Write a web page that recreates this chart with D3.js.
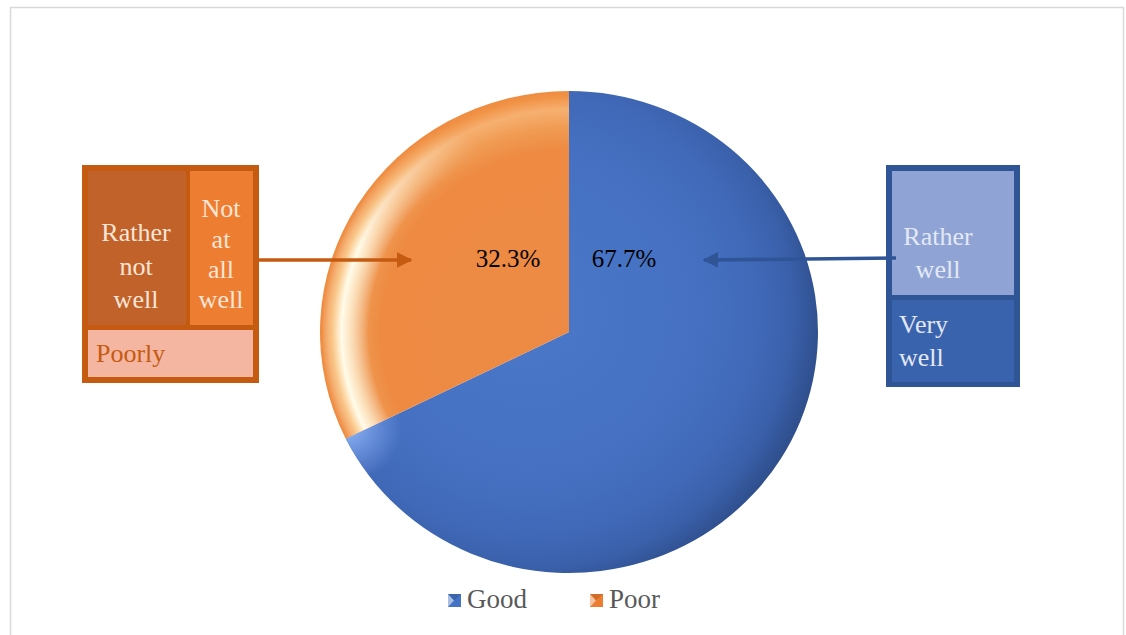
<!DOCTYPE html>
<html><head><meta charset="utf-8">
<script src="https://cdn.jsdelivr.net/npm/d3@7"></script>
<style>body{margin:0;background:#fff}#wrap{position:relative;width:1126px;height:635px}svg{display:block;position:absolute;left:0;top:0}
.lbl{position:absolute;font-family:"Liberation Serif","Times New Roman",serif;white-space:nowrap;line-height:1}</style>
</head><body>
<div id="wrap"><svg id="c" width="1126" height="635"></svg></div>
<script>
const categories = ["Good", "Poor"];
const values = [67.7, 32.3];
const labels = ["67.7%", "32.3%"];
const poorParts = ["Rather not well", "Not at all well", "Poorly"];
const goodParts = ["Rather well", "Very well"];

const svg = d3.select("#c");
const wrap = d3.select("#wrap");
const colors = {Good:"#4472C4", Poor:"#ED7D31"};

// HTML text label: x = anchor x, y = baseline y
function L(x, y, txt, size, color, anchor){
  const d = wrap.append("div").attr("class","lbl").style("font-size",size+"px").style("color",color).text(txt);
  const w = d.node().getBoundingClientRect().width;
  const left = anchor==="middle" ? x - w/2 : x;
  d.style("left",left+"px").style("top",(y - size*0.891)+"px");
  return d;
}

svg.append("path").attr("d","M10.5,636 V7.5 H1123.5 V636").attr("fill","none").attr("stroke","#d9d9d9").attr("stroke-width",1.5);

const defs = svg.append("defs");
function stops(gr, arr){ arr.forEach(([o,c,a])=>gr.append("stop").attr("offset",o).attr("stop-color",c).attr("stop-opacity",a==null?1:a)); }
const gPoor = defs.append("radialGradient").attr("id","gPoor").attr("gradientUnits","userSpaceOnUse").attr("cx",0).attr("cy",0).attr("r",250);
stops(gPoor,[[0,"#EC8A45"],[0.75,"#EE8A42"],[0.84,"#F09A52"],[0.92,"#F6B070"],[0.97,"#F19448"],[1,"#EE8A40"]]);
const gWhite = defs.append("radialGradient").attr("id","gWhite").attr("gradientUnits","userSpaceOnUse").attr("cx",0).attr("cy",0).attr("r",250);
stops(gWhite,[[0,"#fff",0],[0.8,"#fff",0],[0.87,"#FFF8E0",0.7],[0.91,"#FFFBEA",1],[0.95,"#FFE6B0",0.5],[0.99,"#fff",0]]);
const gFade = defs.append("linearGradient").attr("id","gFade").attr("gradientUnits","userSpaceOnUse")
  .attr("x1",-250).attr("y1",60).attr("x2",0).attr("y2",-250);
stops(gFade,[[0,"#fff"],[0.35,"#fff"],[0.75,"#000"],[1,"#000"]]);
defs.append("mask").attr("id","mFade").attr("maskUnits","userSpaceOnUse").attr("x",-300).attr("y",-300).attr("width",600).attr("height",600)
  .append("rect").attr("x",-300).attr("y",-300).attr("width",600).attr("height",600).attr("fill","url(#gFade)");
const gGood = defs.append("radialGradient").attr("id","gGood").attr("gradientUnits","userSpaceOnUse").attr("cx",-40).attr("cy",-20).attr("r",300);
stops(gGood,[[0,"#4A78C8"],[0.55,"#4671C2"],[0.76,"#4069B8"],[0.88,"#3A60AA"],[1,"#2C4A85"]]);
const gShine = defs.append("radialGradient").attr("id","gShine").attr("gradientUnits","userSpaceOnUse").attr("cx",-222).attr("cy",100).attr("r",55);
stops(gShine,[[0,"#9cc0ff",0.85],[1,"#8fb4ff",0]]);

const cx = 569, cy = 332, R = 249;
const pie = d3.pie().sort(null).value(d=>d.v);
const arcs = pie(categories.map((c,i)=>({c, v:values[i], l:labels[i]})));
const arc = d3.arc().innerRadius(0).outerRadius(R);
const g = svg.append("g").attr("transform",`translate(${cx},${cy}) scale(1,0.968)`);
g.selectAll("path.s").data(arcs).join("path").attr("class","s")
  .attr("d",arc).attr("fill",d=>d.data.c==="Good"?"url(#gGood)":"url(#gPoor)");
g.append("path").attr("d",arc(arcs[1])).attr("fill","url(#gWhite)").attr("mask","url(#mFade)");
g.append("path").attr("d",arc(arcs[0])).attr("fill","url(#gShine)");

function marker(id,color){
  defs.append("marker").attr("id",id).attr("viewBox","0 0 10 10").attr("refX",9).attr("refY",5)
    .attr("markerWidth",4.5).attr("markerHeight",4.5).attr("orient","auto-start-reverse")
    .append("path").attr("d","M0,0 L10,5 L0,10 Z").attr("fill",color);
}
marker("mO","#C55A11"); marker("mB","#2F5597");

svg.append("rect").attr("x",83.5).attr("y",166.5).attr("width",174).attr("height",215).attr("fill","#C55A11").attr("stroke","#C55A11").attr("stroke-width",3);
svg.append("rect").attr("x",88).attr("y",171).attr("width",98).attr("height",154).attr("fill","#C0622A");
svg.append("rect").attr("x",190).attr("y",171).attr("width",63).attr("height",154).attr("fill","#ED7D31");
svg.append("rect").attr("x",88).attr("y",330).attr("width",165).attr("height",47).attr("fill","#F4B6A0");

svg.append("rect").attr("x",887.5).attr("y",166.5).attr("width",131).attr("height",219).attr("fill","#2F5597").attr("stroke","#2F5597").attr("stroke-width",3);
svg.append("rect").attr("x",892).attr("y",171).attr("width",122).attr("height",124).attr("fill","#8FA4D4");
svg.append("rect").attr("x",892).attr("y",300).attr("width",122).attr("height",82).attr("fill","#3A63AD");

svg.append("line").attr("x1",256).attr("y1",260).attr("x2",411).attr("y2",260).attr("stroke","#C55A11").attr("stroke-width",3.5).attr("marker-end","url(#mO)");
svg.append("line").attr("x1",896).attr("y1",258).attr("x2",704).attr("y2",260).attr("stroke","#2F5597").attr("stroke-width",3.5).attr("marker-end","url(#mB)");

const leg = [{c:"Good",x:448,tx:467},{c:"Poor",x:590,tx:609}];
leg.forEach(d=>{
  svg.append("rect").attr("x",d.x).attr("y",594).attr("width",13).attr("height",13).attr("fill",colors[d.c]);
  svg.append("path").attr("d",`M${d.x},594 L${d.x+6},600.5 L${d.x},607 Z`).attr("fill","#fff").attr("opacity",0.55);
  svg.append("path").attr("d",`M${d.x},594 L${d.x+13},594 L${d.x+6},600.5 Z`).attr("fill","#000").attr("opacity",0.12);
});

// texts
L(508,268,labels[1],25,"#000","middle");
L(624,268,labels[0],25,"#000","middle");
function lines(x,ys,arr,color,anchor){ arr.forEach((t,i)=>L(x,ys[i],t,26,color,anchor||"middle")); }
lines(136,[243,277,310],["Rather","not","well"],"#FBE5D6");
lines(221,[219,250,280,310],["Not","at","all","well"],"#FBE5D6");
lines(96,[364],[poorParts[2]],"#C55A11","start");
lines(938,[247,280],["Rather","well"],"#E3E9F4");
lines(899,[335,368],["Very","well"],"#E3E9F4","start");
leg.forEach(d=>L(d.tx,610,d.c,27,"#595959","start"));
</script>
</body></html>
